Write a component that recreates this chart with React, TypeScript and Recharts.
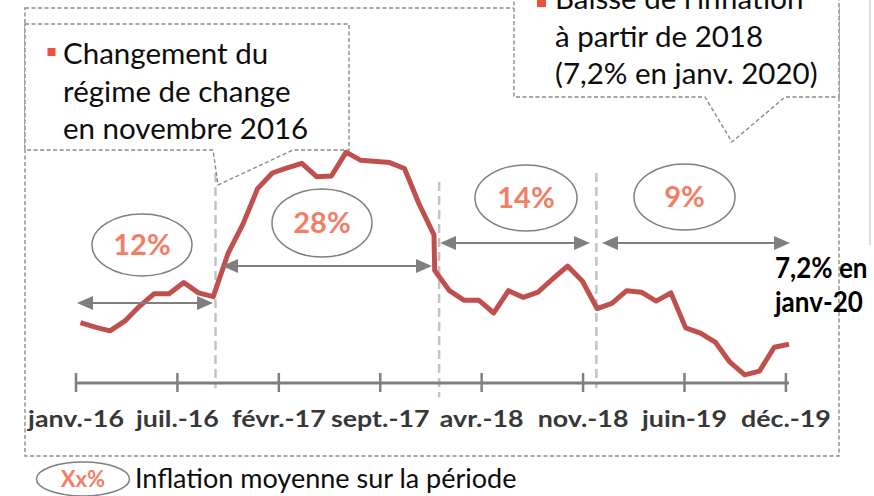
import React from 'react';
import { LineChart, Line, XAxis, YAxis, ReferenceLine } from 'recharts';

// Inflation annuelle en Égypte, janv. 2016 -> janv. 2020 (%)
const INFLATION = [
  10.1, 9.5, 9.0, 10.3, 12.3, 14.0, 14.0, 15.5, 14.1, 13.6, 19.4, 23.3,
  28.1, 30.2, 30.9, 31.5, 29.7, 29.8, 33.0, 31.9, 31.6, 30.8, 26.0, 21.9,
  17.1, 14.4, 13.1, 13.1, 11.4, 14.4, 13.5, 14.2, 16.0, 17.7, 15.7, 12.0,
  12.7, 14.4, 14.2, 13.0, 14.1, 9.4, 8.7, 7.5, 4.8, 3.1, 3.6, 6.8, 7.2,
];
// points datés en fin de mois dans la source (sept.-déc. 2017)
const FIN_DE_MOIS = [20, 21, 22, 23];
const TICK_LABELS = ['janv.-16', 'juil.-16', 'févr.-17', 'sept.-17', 'avr.-18', 'nov.-18', 'juin-19', 'déc.-19'];
const RUPTURES = [9.15, 24.3, 34.95];

const data = INFLATION.map((v, i) => ({ t: FIN_DE_MOIS.includes(i) ? i + 0.95 : i, v }));
const ticks = TICK_LABELS.map((_, i) => -0.3 + i * 6.87);

const FONT = 'Lato, "Open Sans", sans-serif';
const GRIS = '#7f7f7f';
const SAUMON = '#f27e66';

function TickMois(props: any) {
  const { x, y, index } = props;
  return (
    <g>
      <line x1={x} x2={x} y1={y - 10} y2={y + 9} stroke={GRIS} strokeWidth={2.5} />
      <text
        transform={`translate(${x},${y + 44}) scale(1.14,1)`}
        textAnchor="middle"
        fontFamily={FONT}
        fontWeight={700}
        fontSize={23.5}
        fill="#383838"
      >
        {TICK_LABELS[index]}
      </text>
    </g>
  );
}

function Fleche({ x1, x2, y }: { x1: number; x2: number; y: number }) {
  return (
    <g>
      <line x1={x1 + 10} x2={x2 - 10} y1={y} y2={y} stroke={GRIS} strokeWidth={2} />
      <polygon points={`${x1},${y} ${x1 + 16},${y - 7} ${x1 + 16},${y + 7}`} fill={GRIS} />
      <polygon points={`${x2},${y} ${x2 - 16},${y - 7} ${x2 - 16},${y + 7}`} fill={GRIS} />
    </g>
  );
}

function Bulle({ cx, cy, rx, ry, label }: { cx: number; cy: number; rx: number; ry: number; label: string }) {
  return (
    <g>
      <ellipse cx={cx} cy={cy} rx={rx} ry={ry} fill="none" stroke={GRIS} strokeWidth={1.5} />
      <text x={cx} y={cy + 10} textAnchor="middle" fontFamily={FONT} fontWeight={700} fontSize={29} fill={SAUMON}>
        {label}
      </text>
    </g>
  );
}

export default function App() {
  const dash = { stroke: '#8a8a8a', strokeWidth: 1.4, strokeDasharray: '4 2.5' };
  return (
    <div style={{ position: 'absolute', left: 0, top: 0, width: 874, height: 496, background: '#fff', overflow: 'hidden' }}>
      <div style={{ position: 'absolute', left: 0, top: 0 }}>
        <LineChart width={874} height={496} data={data} margin={{ top: 100, right: 85, bottom: 53, left: 76 }}>
          <XAxis
            type="number"
            dataKey="t"
            domain={[-0.3, 48]}
            ticks={ticks}
            interval={0}
            height={60}
            tickSize={0}
            tickMargin={0}
            tickLine={false}
            axisLine={{ stroke: GRIS, strokeWidth: 3 }}
            tick={<TickMois />}
          />
          <YAxis hide domain={[2, 40]} />
          {RUPTURES.map((x, i) => (
            <ReferenceLine
              key={i}
              segment={[{ x, y: i === 1 ? 29 : 30.2 }, { x, y: i === 1 ? 0.1 : 1.3 }]}
              ifOverflow="visible"
              stroke="#c3c3c3"
              strokeWidth={2.5}
              strokeDasharray="9 5"
            />
          ))}
          <Line
            type="linear"
            dataKey="v"
            stroke="#c0504d"
            strokeWidth={5}
            strokeLinejoin="round"
            dot={false}
            isAnimationActive={false}
          />
        </LineChart>
      </div>
      <svg width={874} height={496} style={{ position: 'absolute', left: 0, top: 0, pointerEvents: 'none' }}>
        {/* cadre */}
        <rect x={25} y={8} width={814} height={448} fill="none" {...dash} />
        <line x1={870} x2={870} y1={0} y2={245} stroke="#d2d2d2" strokeWidth={1.5} />

        {/* bulle 1 */}
        <path d="M25 24 H349 V150 H293 L218 185 L213 150 H25 Z" fill="#fff" {...dash} />
        <rect x={47.5} y={48} width={8} height={8} fill="#e8533c" />
        <g fontFamily={FONT} fontSize={29.5} fill="#0d0d0d">
          <text x={63} y={64}>Changement du</text>
          <text x={63} y={101.5}>régime de change</text>
          <text x={63} y={139}>en novembre 2016</text>
        </g>

        {/* bulle 2 */}
        <path d="M514 -10 H839 V97 H785 L732 142 L705 97 H514 Z" fill="#fff" {...dash} />
        <rect x={537} y={-2} width={9} height={9} fill="#e8533c" />
        <g fontFamily={FONT} fontSize={29.5} fill="#0d0d0d">
          <text x={555} y={8.5}>Baisse de l'inflation</text>
          <text x={555} y={46.5}>à partir de 2018</text>
          <text x={555} y={84}>(7,2% en janv. 2020)</text>
        </g>

        {/* moyennes par période */}
        <Fleche x1={77} x2={213} y={303} />
        <Fleche x1={222} x2={432} y={266} />
        <Fleche x1={440} x2={590} y={243} />
        <Fleche x1={602} x2={790} y={243} />
        <Bulle cx={142} cy={245} rx={50} ry={31} label="12%" />
        <Bulle cx={322} cy={223} rx={50} ry={34} label="28%" />
        <Bulle cx={526} cy={198} rx={51} ry={33} label="14%" />
        <Bulle cx={684.5} cy={197} rx={50.5} ry={33} label="9%" />

        <g fontFamily={FONT} fontWeight={700} fontSize={28} fill="#000">
          <text transform="translate(775,278) scale(0.93,1)">7,2% en</text>
          <text transform="translate(775,312) scale(0.93,1)">janv-20</text>
        </g>

        {/* légende */}
        <ellipse cx={83} cy={479} rx={46.5} ry={17} fill="none" stroke={GRIS} strokeWidth={1.5} />
        <text x={83} y={487} textAnchor="middle" fontFamily={FONT} fontWeight={700} fontSize={22} fill={SAUMON}>
          Xx%
        </text>
        <text x={135} y={488} fontFamily={FONT} fontSize={27} fill="#0d0d0d">
          Inflation moyenne sur la période
        </text>
      </svg>
    </div>
  );
}
